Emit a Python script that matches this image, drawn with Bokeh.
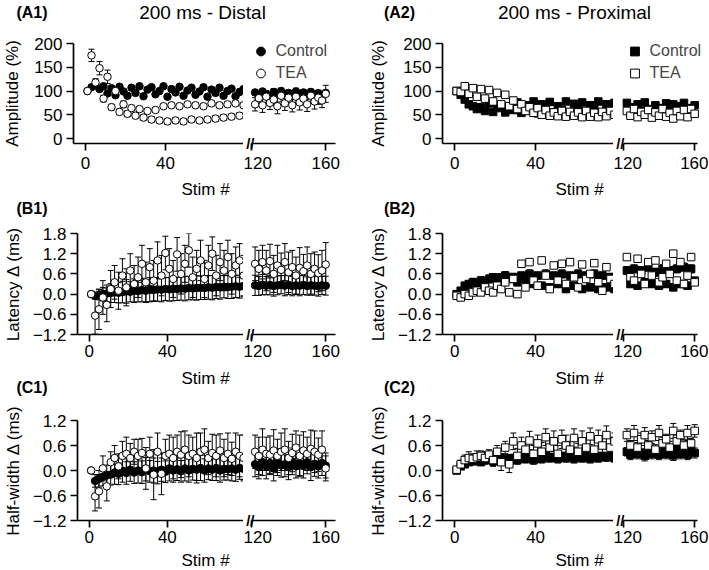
from bokeh.plotting import figure
from bokeh.models import Range1d, FixedTicker, Label, Legend, LegendItem, ColumnDataSource
from bokeh.layouts import column, row
from bokeh.embed import file_html
from bokeh.resources import INLINE

FONT = "Liberation Sans"

# ---------------- data ----------------
stim = [1, 3, 5, 7, 9, 11, 13, 15, 17, 19, 21, 23, 25, 27, 29, 31, 33, 35, 37, 39,
        41, 43, 45, 47, 49, 51, 53, 55, 57, 59, 61, 63, 65, 67, 69, 71, 73, 75, 77, 79,
        122, 124, 126, 128, 130, 132, 134, 136, 138, 140, 142, 144, 146, 148, 150, 152, 154, 156, 158, 160]

x_ticks_early = [0, 40]
x_ticks_late = [120, 160]
amp_ticks = [0, 50, 100, 150, 200]
delta_ticks_b = [-1.2, -0.6, 0.0, 0.6, 1.2, 1.8]
delta_ticks_c = [-1.2, -0.6, 0.0, 0.6, 1.2]
delta_tick_labels = {-1.2: "\u22121.2", -0.6: "\u22120.6", 0.0: "0.0", 0.6: "0.6", 1.2: "1.2", 1.8: "1.8"}
break_mark = "//"

series_names = ["Control", "TEA"]
panel_labels = ["(A1)", "(A2)", "(B1)", "(B2)", "(C1)", "(C2)"]
col_titles = ["200 ms - Distal", "200 ms - Proximal"]
y_titles = ["Amplitude (%)", "Latency \u0394 (ms)", "Half-width \u0394 (ms)"]
x_title = "Stim #"

# A1 amplitude, distal
amp_distal_ctrl = [100, 108, 112, 104, 110, 95, 106, 91, 109, 99, 90, 107, 96, 110, 89, 103, 108, 93, 100, 110,
                   88, 104, 97, 109, 90, 101, 107, 92, 99, 108, 88, 103, 96, 107, 90, 100, 105, 89, 98, 104,
                   97, 90, 99, 93, 88, 98, 94, 100, 91, 96, 89, 99, 93, 97, 90, 98, 92, 95, 89, 96]
amp_distal_ctrl_err = [2, 4, 5, 4, 4, 4, 4, 3, 4, 3, 4, 3, 4, 3, 4, 3, 4, 3, 4, 3,
                       4, 3, 4, 3, 4, 3, 4, 3, 4, 3, 4, 3, 4, 3, 4, 3, 4, 3, 4, 3,
                       5, 6, 4, 6, 5, 7, 5, 6, 4, 6, 5, 7, 5, 6, 5, 6, 4, 7, 5, 6]
amp_distal_tea = [100, 175, 118, 148, 84, 130, 66, 100, 56, 72, 52, 64, 48, 62, 44, 58, 40, 60, 38, 68,
                  36, 70, 38, 68, 36, 72, 40, 70, 38, 68, 40, 74, 42, 70, 44, 72, 46, 74, 48, 70,
                  72, 85, 70, 88, 75, 82, 68, 90, 74, 86, 70, 88, 76, 84, 72, 90, 78, 86, 80, 94]
amp_distal_tea_err = [2, 13, 8, 14, 7, 14, 6, 8, 6, 7, 6, 6, 6, 5, 6, 5, 6, 5, 6, 5,
                      6, 5, 6, 5, 6, 5, 6, 5, 6, 5, 6, 5, 6, 5, 6, 5, 6, 5, 6, 5,
                      14, 12, 15, 13, 14, 12, 16, 13, 15, 12, 14, 13, 16, 12, 15, 13, 16, 14, 15, 18]

# A2 amplitude, proximal
amp_prox_ctrl = [100, 92, 82, 72, 68, 62, 66, 58, 74, 56, 64, 70, 55, 68, 60, 76, 54, 70, 62, 78,
                 53, 72, 64, 77, 55, 68, 60, 78, 52, 73, 65, 76, 54, 70, 61, 78, 52, 72, 64, 75,
                 75, 55, 66, 72, 58, 76, 62, 52, 70, 64, 56, 74, 60, 72, 53, 68, 75, 57, 64, 70]
amp_prox_ctrl_err = [2, 4, 5, 5, 5, 4, 5, 4, 5, 4, 5, 4, 5, 4, 5, 4, 5, 4, 5, 4,
                     5, 4, 5, 4, 5, 4, 5, 4, 5, 4, 5, 4, 5, 4, 5, 4, 5, 4, 5, 4,
                     5, 4, 5, 4, 5, 4, 5, 4, 5, 4, 5, 4, 5, 4, 5, 4, 5, 4, 5, 4]
amp_prox_tea = [100, 98, 110, 94, 106, 88, 104, 84, 102, 78, 96, 72, 92, 68, 80, 62, 72, 58, 66, 54,
                64, 50, 60, 48, 55, 47, 58, 46, 56, 48, 55, 45, 58, 46, 54, 45, 56, 47, 58, 50,
                58, 48, 62, 45, 56, 50, 60, 44, 55, 48, 62, 46, 54, 42, 58, 47, 60, 45, 62, 52]
amp_prox_tea_err = [3, 4, 5, 4, 5, 4, 5, 4, 5, 4, 5, 4, 5, 4, 5, 4, 5, 4, 5, 4,
                    5, 4, 5, 4, 5, 4, 5, 4, 5, 4, 5, 4, 5, 4, 5, 4, 5, 4, 5, 4,
                    5, 4, 6, 4, 5, 4, 6, 4, 5, 4, 6, 4, 5, 4, 6, 4, 5, 4, 6, 5]

# B1 latency, distal
lat_distal_ctrl = [0.0, -0.05, -0.02, 0.0, 0.02, 0.03, 0.05, 0.04, 0.06, 0.08, 0.07, 0.1, 0.09, 0.12, 0.1, 0.13, 0.12, 0.14, 0.13, 0.15,
                   0.14, 0.16, 0.15, 0.17, 0.16, 0.18, 0.17, 0.18, 0.19, 0.18, 0.2, 0.19, 0.21, 0.2, 0.22, 0.21, 0.22, 0.23, 0.22, 0.24,
                   0.26, 0.24, 0.28, 0.25, 0.27, 0.24, 0.26, 0.28, 0.25, 0.27, 0.24, 0.26, 0.25, 0.27, 0.24, 0.26, 0.25, 0.24, 0.26, 0.25]
lat_distal_ctrl_err = [0.02, 0.1, 0.15, 0.2, 0.25, 0.28, 0.3, 0.3, 0.32, 0.35, 0.3, 0.35, 0.32, 0.35, 0.33, 0.36, 0.34, 0.35, 0.36, 0.34,
                       0.35, 0.36, 0.34, 0.35, 0.36, 0.35, 0.34, 0.36, 0.35, 0.34, 0.35, 0.36, 0.34, 0.35, 0.33, 0.34, 0.35, 0.33, 0.34, 0.32,
                       0.3, 0.28, 0.3, 0.27, 0.29, 0.3, 0.28, 0.27, 0.3, 0.28, 0.29, 0.27, 0.3, 0.28, 0.27, 0.29, 0.28, 0.3, 0.27, 0.28]
lat_distal_tea = [0.0, -0.64, -0.45, -0.1, -0.32, 0.15, 0.35, 0.1, 0.55, 0.2, 0.7, 0.3, 0.5, 0.9, 0.35, 0.8, 0.4, 1.0, 0.55, 1.22,
                  0.75, 0.45, 1.18, 0.6, 0.9, 1.3, 0.5, 0.75, 1.0, 0.45, 0.85, 1.2, 0.55, 0.95, 0.7, 1.1, 0.6, 0.85, 1.0, 0.55,
                  0.9, 0.75, 0.95, 0.7, 0.98, 0.6, 0.85, 0.72, 0.95, 0.65, 0.8, 0.55, 0.78, 0.68, 0.85, 0.6, 0.75, 0.62, 0.7, 0.88]
lat_distal_tea_err = [0.05, 0.55, 0.6, 0.5, 0.5, 0.55, 0.5, 0.55, 0.5, 0.55, 0.5, 0.55, 0.6, 0.55, 0.6, 0.55, 0.6, 0.55, 0.6, 0.5,
                      0.6, 0.55, 0.5, 0.6, 0.55, 0.5, 0.6, 0.55, 0.6, 0.55, 0.6, 0.5, 0.6, 0.55, 0.6, 0.5, 0.6, 0.55, 0.5, 0.6,
                      0.5, 0.55, 0.5, 0.6, 0.5, 0.55, 0.6, 0.5, 0.55, 0.6, 0.5, 0.55, 0.6, 0.5, 0.55, 0.6, 0.5, 0.55, 0.6, 0.65]

# B2 latency, proximal
lat_prox_ctrl = [0.0, 0.1, 0.25, 0.3, 0.35, 0.3, 0.4, 0.35, 0.45, 0.5, 0.4, 0.5, 0.55, 0.45, 0.5, 0.35, 0.55, 0.45, 0.6, 0.3,
                 0.55, 0.25, 0.6, 0.2, 0.55, 0.3, 0.6, 0.15, 0.55, 0.25, 0.6, 0.15, 0.55, 0.2, 0.6, 0.15, 0.55, 0.2, 0.5, 0.15,
                 0.7, 0.3, 0.75, 0.25, 0.7, 0.35, 0.8, 0.3, 0.65, 0.25, 0.75, 0.3, 0.7, 0.2, 0.75, 0.3, 0.8, 0.25, 0.75, 0.4]
lat_prox_ctrl_err = [0.02, 0.05, 0.08, 0.1, 0.12, 0.1, 0.12, 0.1, 0.12, 0.1, 0.12, 0.1, 0.12, 0.1, 0.12, 0.1, 0.1, 0.1, 0.12, 0.1,
                     0.1, 0.1, 0.12, 0.08, 0.1, 0.1, 0.12, 0.08, 0.1, 0.1, 0.12, 0.08, 0.1, 0.1, 0.12, 0.08, 0.1, 0.1, 0.12, 0.08,
                     0.12, 0.1, 0.12, 0.1, 0.12, 0.1, 0.12, 0.1, 0.12, 0.1, 0.12, 0.1, 0.12, 0.1, 0.12, 0.1, 0.12, 0.1, 0.12, 0.1]
lat_prox_tea = [-0.05, -0.1, 0.0, -0.05, 0.05, 0.1, 0.05, 0.2, 0.1, 0.05, 0.25, 0.15, 0.35, 0.05, 0.45, 0.0, 0.9, 0.2, 0.95, 0.4,
                0.25, 1.0, 0.55, 0.15, 0.85, 0.4, 0.9, 0.3, 0.95, 0.5, 0.2, 0.88, 0.45, 0.6, 0.92, 0.35, 0.1, 0.8, 0.45, 0.3,
                1.1, 0.5, 0.4, 1.05, 0.6, 0.3, 0.95, 0.55, 1.0, 0.35, 0.5, 0.9, 0.6, 1.2, 0.4, 0.95, 0.3, 0.55, 1.1, 0.35]
lat_prox_tea_err = [0.03, 0.05, 0.05, 0.06, 0.05, 0.06, 0.05, 0.06, 0.05, 0.06, 0.05, 0.06, 0.05, 0.06, 0.05, 0.06, 0.06, 0.05, 0.06, 0.05,
                    0.06, 0.05, 0.06, 0.05, 0.06, 0.05, 0.06, 0.05, 0.06, 0.05, 0.06, 0.05, 0.06, 0.05, 0.06, 0.05, 0.06, 0.05, 0.06, 0.05,
                    0.06, 0.05, 0.06, 0.05, 0.06, 0.05, 0.06, 0.05, 0.06, 0.05, 0.06, 0.05, 0.06, 0.05, 0.06, 0.05, 0.06, 0.05, 0.06, 0.05]

# C1 half-width, distal
hw_distal_ctrl = [0.0, -0.25, -0.2, -0.15, -0.12, -0.1, -0.05, -0.08, 0.0, -0.06, 0.02, -0.05, 0.0, -0.04, 0.03, -0.02, 0.0, -0.05, 0.02, -0.03,
                  0.05, 0.0, 0.03, -0.02, 0.05, 0.0, 0.04, 0.02, 0.06, 0.0, 0.05, 0.02, 0.06, 0.0, 0.04, 0.03, 0.05, 0.02, 0.06, 0.04,
                  0.15, 0.08, 0.2, 0.1, 0.18, 0.05, 0.2, 0.12, 0.15, 0.08, 0.22, 0.1, 0.18, 0.12, 0.2, 0.08, 0.16, 0.1, 0.18, 0.12]
hw_distal_ctrl_err = [0.02, 0.15, 0.2, 0.22, 0.25, 0.25, 0.28, 0.26, 0.28, 0.27, 0.28, 0.26, 0.3, 0.27, 0.28, 0.26, 0.3, 0.27, 0.28, 0.26,
                      0.3, 0.28, 0.27, 0.26, 0.3, 0.28, 0.27, 0.26, 0.3, 0.28, 0.27, 0.26, 0.3, 0.28, 0.27, 0.26, 0.3, 0.28, 0.27, 0.26,
                      0.3, 0.28, 0.32, 0.3, 0.28, 0.3, 0.32, 0.28, 0.3, 0.3, 0.32, 0.28, 0.3, 0.3, 0.28, 0.32, 0.3, 0.28, 0.3, 0.3]
hw_distal_tea = [0.0, -0.62, -0.5, 0.05, -0.38, 0.2, 0.3, 0.1, 0.35, 0.4, 0.3, 0.45, 0.35, 0.42, 0.05, 0.4, -0.1, 0.45, -0.08, 0.35,
                 0.4, 0.3, 0.45, 0.38, 0.5, 0.35, 0.4, 0.3, 0.45, 0.5, 0.3, 0.42, 0.35, 0.48, 0.3, 0.4, 0.28, 0.45, 0.35, 0.3,
                 0.45, 0.35, 0.5, 0.4, 0.38, 0.48, 0.35, 0.45, 0.5, 0.3, 0.42, 0.55, 0.35, 0.48, 0.4, 0.52, 0.45, 0.38, 0.5, 0.05]
hw_distal_tea_err = [0.05, 0.35, 0.4, 0.3, 0.35, 0.25, 0.3, 0.3, 0.35, 0.4, 0.35, 0.3, 0.4, 0.35, 0.5, 0.4, 0.6, 0.45, 0.5, 0.4,
                     0.45, 0.5, 0.4, 0.55, 0.45, 0.5, 0.4, 0.6, 0.45, 0.5, 0.4, 0.45, 0.5, 0.4, 0.45, 0.5, 0.4, 0.45, 0.5, 0.55,
                     0.4, 0.45, 0.5, 0.4, 0.45, 0.5, 0.4, 0.45, 0.5, 0.4, 0.45, 0.4, 0.5, 0.45, 0.4, 0.45, 0.5, 0.4, 0.45, 0.3]

# C2 half-width, proximal
hw_prox_ctrl = [0.0, 0.1, 0.15, 0.2, 0.22, 0.25, 0.2, 0.28, 0.25, 0.22, 0.28, 0.25, 0.3, 0.22, 0.3, 0.25, 0.32, 0.28, 0.3, 0.25,
                0.32, 0.28, 0.35, 0.3, 0.32, 0.28, 0.35, 0.3, 0.33, 0.28, 0.35, 0.3, 0.34, 0.28, 0.36, 0.3, 0.35, 0.32, 0.34, 0.3,
                0.45, 0.38, 0.5, 0.4, 0.42, 0.35, 0.5, 0.4, 0.45, 0.38, 0.48, 0.4, 0.42, 0.36, 0.5, 0.4, 0.45, 0.38, 0.48, 0.42]
hw_prox_ctrl_err = [0.02, 0.05, 0.06, 0.08, 0.08, 0.1, 0.08, 0.1, 0.08, 0.1, 0.08, 0.1, 0.08, 0.1, 0.08, 0.1, 0.08, 0.1, 0.08, 0.1,
                    0.08, 0.1, 0.08, 0.1, 0.08, 0.1, 0.08, 0.1, 0.08, 0.1, 0.08, 0.1, 0.08, 0.1, 0.08, 0.1, 0.08, 0.1, 0.08, 0.1,
                    0.1, 0.12, 0.1, 0.12, 0.1, 0.12, 0.1, 0.12, 0.1, 0.12, 0.1, 0.12, 0.1, 0.12, 0.1, 0.12, 0.1, 0.12, 0.1, 0.12]
hw_prox_tea = [0.02, 0.15, 0.25, 0.3, 0.28, 0.32, 0.35, 0.3, 0.38, 0.25, 0.45, 0.2, 0.55, 0.15, 0.7, 0.35, 0.6, 0.5, 0.72, 0.4,
               0.65, 0.45, 0.8, 0.55, 0.7, 0.4, 0.75, 0.6, 0.5, 0.78, 0.45, 0.7, 0.55, 0.82, 0.5, 0.75, 0.6, 0.85, 0.55, 0.7,
               0.85, 0.6, 0.9, 0.55, 0.75, 0.85, 0.6, 0.8, 0.5, 0.9, 0.65, 0.75, 0.55, 0.95, 0.7, 0.85, 0.6, 0.9, 0.65, 0.95]
hw_prox_tea_err = [0.05, 0.1, 0.12, 0.15, 0.12, 0.15, 0.12, 0.15, 0.12, 0.15, 0.15, 0.2, 0.15, 0.2, 0.2, 0.18, 0.2, 0.18, 0.22, 0.2,
                   0.2, 0.22, 0.2, 0.22, 0.25, 0.2, 0.22, 0.25, 0.2, 0.22, 0.2, 0.25, 0.22, 0.2, 0.25, 0.22, 0.2, 0.22, 0.25, 0.2,
                   0.15, 0.12, 0.18, 0.12, 0.15, 0.18, 0.12, 0.15, 0.12, 0.18, 0.15, 0.12, 0.15, 0.18, 0.15, 0.12, 0.15, 0.18, 0.12, 0.15]

for arr in [amp_distal_ctrl, amp_distal_ctrl_err, amp_distal_tea, amp_distal_tea_err,
            amp_prox_ctrl, amp_prox_ctrl_err, amp_prox_tea, amp_prox_tea_err,
            lat_distal_ctrl, lat_distal_ctrl_err, lat_distal_tea, lat_distal_tea_err,
            lat_prox_ctrl, lat_prox_ctrl_err, lat_prox_tea, lat_prox_tea_err,
            hw_distal_ctrl, hw_distal_ctrl_err, hw_distal_tea, hw_distal_tea_err,
            hw_prox_ctrl, hw_prox_ctrl_err, hw_prox_tea, hw_prox_tea_err]:
    assert len(arr) == len(stim), len(arr)

# ---------------- layout geometry (pixels) ----------------
PAGE_W = 708
COLS = [
    dict(Lw=243, Lbl=73, Lx=(-6, 79), Rw=102, Rbr=10, Rx=(116.84, 165.26), Rax_end=165.26, leg_x=3.5,
         ylab_sd=[9, 7, 7], marker="circle"),
    dict(Lw=268, Lbl=97, Lx=(-6, 78.5), Rw=95, Rbr=6, Rx=(115.62, 164.39), Rax_end=161.65, leg_x=7.5,
         ylab_sd=[12, 7, 7], marker="square"),
]
ROWS = [
    dict(H=154, bt=19, bb=35, xsd=6, y=(-10.5, 200), ticks=amp_ticks, labels=None),
    dict(H=144, bt=11, bb=32, xsd=3, y=(-1.2, 1.8), ticks=delta_ticks_b, labels=delta_tick_labels),
    dict(H=152, bt=22, bb=30, xsd=3, y=(-1.2, 1.2), ticks=delta_ticks_c, labels=delta_tick_labels),
]
# text strips between the rows: (top, height, [(text, x, y, size, bold), ...]) in page pixels
STRIPS = [
    (0, 24, [(panel_labels[0], 31.5, 12, "16px", True), (col_titles[0], 202, 12, "19px", False),
             (panel_labels[1], 399, 12, "16px", True), (col_titles[1], 574, 12, "19px", False)]),
    (178, 44, [(x_title, 205, 188.5, "17px", False), (x_title, 579, 188.5, "17px", False),
               (panel_labels[2], 31.5, 208, "16px", True), (panel_labels[3], 399, 208, "16px", True)]),
    (366, 32, [(x_title, 205, 377.5, "17px", False), (x_title, 579, 377.5, "17px", False),
               (panel_labels[4], 31.5, 387, "16px", True), (panel_labels[5], 399, 387, "16px", True)]),
    (550, 20, [(x_title, 205, 560, "17px", False), (x_title, 579, 560, "17px", False)]),
]
DATA = [
    [(amp_distal_ctrl, amp_distal_ctrl_err, amp_distal_tea, amp_distal_tea_err),
     (amp_prox_ctrl, amp_prox_ctrl_err, amp_prox_tea, amp_prox_tea_err)],
    [(lat_distal_ctrl, lat_distal_ctrl_err, lat_distal_tea, lat_distal_tea_err),
     (lat_prox_ctrl, lat_prox_ctrl_err, lat_prox_tea, lat_prox_tea_err)],
    [(hw_distal_ctrl, hw_distal_ctrl_err, hw_distal_tea, hw_distal_tea_err),
     (hw_prox_ctrl, hw_prox_ctrl_err, hw_prox_tea, hw_prox_tea_err)],
]


def style_axis(ax, standoff):
    ax.axis_line_width = 1.7
    ax.axis_line_color = "black"
    ax.major_tick_line_width = 1.7
    ax.major_tick_line_color = "black"
    ax.major_tick_out = 7
    ax.major_tick_in = 0
    ax.minor_tick_line_color = None
    ax.major_label_text_font = FONT
    ax.major_label_text_font_size = "17px"
    ax.major_label_text_color = "black"
    ax.major_label_standoff = standoff


def make_fig(width, height, xr, yr, bl, br, bt, bb):
    p = figure(width=width, height=height, x_range=Range1d(*xr), y_range=Range1d(*yr),
               output_backend="svg", toolbar_location=None,
               min_border_left=bl, min_border_right=br, min_border_top=bt, min_border_bottom=bb)
    p.outline_line_color = None
    p.xgrid.visible = False
    p.ygrid.visible = False
    p.background_fill_color = "white"
    p.border_fill_color = "white"
    return p


def subset(vals, errs, lo, hi):
    idx = [i for i, s in enumerate(stim) if lo <= s <= hi]
    return ColumnDataSource(dict(
        x=[stim[i] for i in idx],
        y=[vals[i] for i in idx],
        lo=[vals[i] - errs[i] for i in idx],
        hi=[vals[i] + errs[i] for i in idx],
    ))


def draw_series(p, src, marker, fill):
    p.segment(x0="x", y0="lo", x1="x", y1="hi", source=src, line_color="black", line_width=1)
    p.scatter(x="x", y="lo", source=src, marker="dash", size=6, line_color="black", line_width=1)
    p.scatter(x="x", y="hi", source=src, marker="dash", size=6, line_color="black", line_width=1)
    return p.scatter(x="x", y="y", source=src, marker=marker, size=7.5,
                     fill_color=fill, line_color="black", line_width=1)


def make_strip(top, height, texts):
    s = figure(width=PAGE_W, height=height, x_range=Range1d(0, PAGE_W), y_range=Range1d(0, height),
               output_backend="svg", toolbar_location=None, min_border=0,
               x_axis_location=None, y_axis_location=None)
    s.outline_line_color = None
    s.xgrid.visible = False
    s.ygrid.visible = False
    for text, x, y, size, bold in texts:
        s.add_layout(Label(x=x, y=top + height - y, text=text, text_font=FONT, text_font_size=size,
                           text_font_style="bold" if bold else "normal", text_color="black",
                           text_align="center", text_baseline="middle"))
    return s


rows_out = []
for ri, rc in enumerate(ROWS):
    figs = []
    for ci, cc in enumerate(COLS):
        ctrl, ctrl_err, tea, tea_err = DATA[ri][ci]
        pL = make_fig(cc["Lw"], rc["H"], cc["Lx"], rc["y"], cc["Lbl"], 0, rc["bt"], rc["bb"])
        pR = make_fig(cc["Rw"], rc["H"], cc["Rx"], rc["y"], 0, cc["Rbr"], rc["bt"], rc["bb"])
        for p in (pL, pR):
            style_axis(p.xaxis[0], rc["xsd"])
        pL.xaxis[0].ticker = FixedTicker(ticks=x_ticks_early)
        pR.xaxis[0].ticker = FixedTicker(ticks=x_ticks_late)
        pR.xaxis[0].bounds = (120, cc["Rax_end"])

        # left y axis with its title
        yax = pL.yaxis[0]
        style_axis(yax, 4)
        yax.ticker = FixedTicker(ticks=rc["ticks"])
        if rc["labels"]:
            yax.major_label_overrides = rc["labels"]
        yax.axis_label = y_titles[ri]
        yax.axis_label_text_font = FONT
        yax.axis_label_text_font_size = "17px"
        yax.axis_label_text_font_style = "normal"
        yax.axis_label_text_color = "black"
        yax.axis_label_standoff = cc["ylab_sd"][ri]

        # the late segment's own y axis only carries the "//" break mark on the x axis line
        bax = pR.yaxis[0]
        bax.ticker = FixedTicker(ticks=[rc["y"][0]])
        bax.major_label_overrides = {rc["y"][0]: break_mark}
        bax.axis_line_color = None
        bax.major_tick_line_color = None
        bax.minor_tick_line_color = None
        bax.major_tick_out = 0
        bax.major_tick_in = 0
        bax.major_label_standoff = -9
        bax.major_label_text_font = FONT
        bax.major_label_text_font_size = "15px"
        bax.major_label_text_font_style = "bold"
        bax.major_label_text_color = "black"

        marker = cc["marker"]
        rendered = {}
        for p, lo, hi in ((pL, -100, 100), (pR, 100, 200)):
            r_c = draw_series(p, subset(ctrl, ctrl_err, lo, hi), marker, "black")
            r_t = draw_series(p, subset(tea, tea_err, lo, hi), marker, "white")
            rendered[id(p)] = (r_c, r_t)

        if ri == 0:
            r_c, r_t = rendered[id(pR)]
            leg = Legend(items=[LegendItem(label=series_names[0], renderers=[r_c]),
                                LegendItem(label=series_names[1], renderers=[r_t])],
                         location=(cc["leg_x"], 59), orientation="vertical",
                         glyph_width=23, glyph_height=22, label_height=22, label_standoff=4,
                         spacing=0, padding=0, margin=0, border_line_color=None,
                         background_fill_alpha=0, label_text_font=FONT, label_text_font_size="16px")
            pR.add_layout(leg)
        figs += [pL, pR]
    rows_out.append(row(*figs, spacing=0))

strips = [make_strip(*s) for s in STRIPS]
layout = column(strips[0], rows_out[0], strips[1], rows_out[1], strips[2], rows_out[2], strips[3], spacing=0)
open("out.html", "w").write(file_html(layout, INLINE))
